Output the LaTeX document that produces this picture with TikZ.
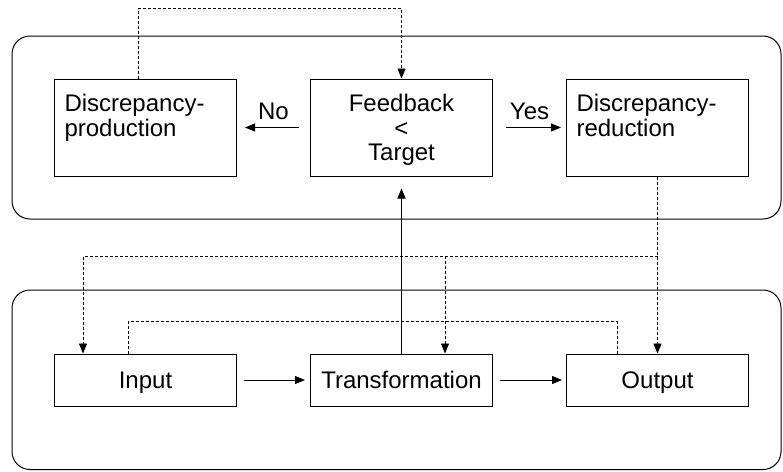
\documentclass[tikz,border=0pt]{standalone}
\usepackage{fontspec}
\setmainfont{Liberation Sans}
\usetikzlibrary{arrows.meta}

\begin{document}
\begin{tikzpicture}[x=1pt, y=-1pt, line width=1pt,
		every node/.style={font=\fontsize{24}{24.5}\selectfont},
		box/.style={draw, minimum width=182pt, inner xsep=10pt, text width=162pt},
		tall/.style={box, minimum height=97pt},
		flat/.style={box, minimum height=52pt, text height=17pt, text depth=0pt, align=center},
		arrowed/.style={-{Triangle[length=10pt,width=8pt]}},
		flow/.style={arrowed, shorten <=7pt, shorten >=5pt},
		loop/.style={dash pattern=on 3pt off 2pt, line width=0.9pt},
		lbl/.style={above=7pt, inner sep=0pt}]
	\useasboundingbox (0,0) rectangle (783,471);
	\draw[rounded corners=18pt] (12,36) rectangle (781,219);
	\draw[rounded corners=18pt] (12,290) rectangle (781,469.5);
	% upper part
	\node[tall, align=left] (dprod) at (145.5,127.5) {Discrepancy-\\production\\\mbox{}};
	\node[tall, align=center] (fb) at (401.5,127.5) {Feedback\\<\\\raisebox{0pt}[\height][0pt]{Target}};
	\node[tall, align=left] (dred) at (657.5,127.5) {Discrepancy-\\reduction\\\mbox{}};
	% lower part
	\foreach \n/\t/\x in {input/Input/145.5, trans/Transformation/401.5, output/Output/657.5}
		\node[flat] (\n) at (\x,380) {\t};
	\draw[flow, shorten <=11pt, shorten >=8pt] (fb) -- node[lbl] {No} (dprod);
	\draw[flow, shorten <=13pt] (fb) -- node[lbl] {Yes} (dred);
	\draw[flow] (input) -- (trans);
	\draw[flow, shorten >=4pt] (trans) -- (output);
	\draw[flow, shorten <=0pt, shorten >=12pt] (trans) -- (fb);
	% dashed loops
	\coordinate (split) at (657.5,256);
	\draw[loop, arrowed] ([xshift=-7.5pt]dprod.north) -- ++(0,-70) -| (fb.north);
	\draw[loop, arrowed] (dred) -- (output);
	\draw[loop, arrowed] (split) -| ([xshift=-62.5pt]input.north);
	\draw[loop, arrowed] ([xshift=43.5pt]trans.north |- split) -- ([xshift=43.5pt]trans.north);
	\draw[loop] ([xshift=-40.5pt]output.north) -- ++(0,-32) -| ([xshift=-17.5pt]input.north);
\end{tikzpicture}
\end{document}
